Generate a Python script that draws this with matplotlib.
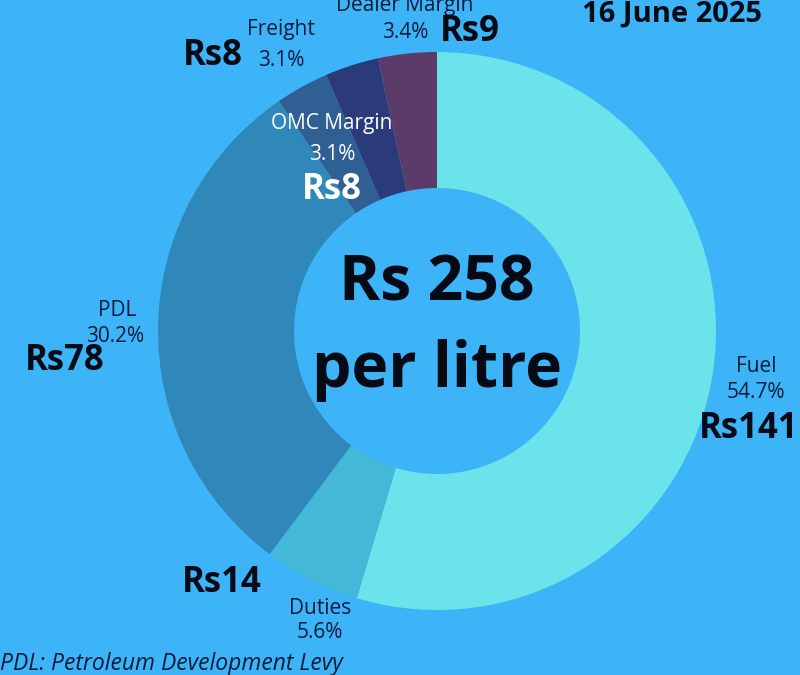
import matplotlib.pyplot as plt

# data
labels = ['Fuel', 'Duties', 'PDL', 'OMC Margin', 'Freight', 'Dealer Margin']
shares = [54.7, 5.6, 30.2, 3.1, 3.1, 3.4]
rupees = [141, 14, 78, 8, 8, 9]
colors = ['#6ae3ea', '#45b7d7', '#2f88b9', '#2f5f93', '#2b3a78', '#5b3b68']
total = 258
date_text = '16 June 2025'
note = 'PDL: Petroleum Development Levy'

bg = '#3cb4f7'
dark = '#0d1b3a'
W, H = 800, 675

plt.rcParams['font.family'] = ['Open Sans', 'DejaVu Sans']

fig = plt.figure(figsize=(8, 6.75), dpi=100)
fig.patch.set_facecolor(bg)
ax = fig.add_axes([0, 0, 1, 1])
ax.set_facecolor(bg)

cx, cy, r = 437, H - 331, 279
ax.pie(shares, colors=colors, startangle=90, counterclock=False,
       center=(cx, cy), radius=r, frame=True,
       wedgeprops=dict(width=136, linewidth=0))
ax.set_xlim(0, W)
ax.set_ylim(0, H)
ax.set_aspect('equal')
ax.axis('off')

def py(y):
    return H - y

# label positions in pixels (x, y of name, pct, value)
name_pos = [(756, 367), (320, 608), (117, 311), (332, 124), (281, 30), (405, 6)]
pct_pos = [(756, 393), (320, 633), (115, 337), (332, 155), (281, 60), (405, 33)]
val_pos = [(749, 429), (222, 583), (65, 361), (332, 190), (213, 56), (470, 32)]

for i, lab in enumerate(labels):
    c = 'white' if lab == 'OMC Margin' else dark
    vc = 'white' if lab == 'OMC Margin' else '#050a14'
    ax.text(name_pos[i][0], py(name_pos[i][1]), lab, ha='center', va='center',
            fontsize=15, color=c)
    ax.text(pct_pos[i][0], py(pct_pos[i][1]), f'{shares[i]}%', ha='center',
            va='center', fontsize=15, color=c)
    ax.text(val_pos[i][0], py(val_pos[i][1]), f'Rs{rupees[i]}', ha='center',
            va='center', fontsize=25, fontweight='bold', color=vc)

ax.text(cx, py(284), f'Rs {total}', ha='center', va='center', fontsize=45,
        fontweight='bold', color='#050a14')
ax.text(cx, py(370), 'per litre', ha='center', va='center', fontsize=45,
        fontweight='bold', color='#050a14')
ax.text(672, py(22), date_text, ha='center', va='baseline', fontsize=21,
        fontweight='bold', color='#050a14')
ax.text(0, py(664), note, ha='left', va='center', fontsize=16.5,
        style='italic', color=dark)

fig.savefig('out.png', dpi=100, facecolor=bg)
